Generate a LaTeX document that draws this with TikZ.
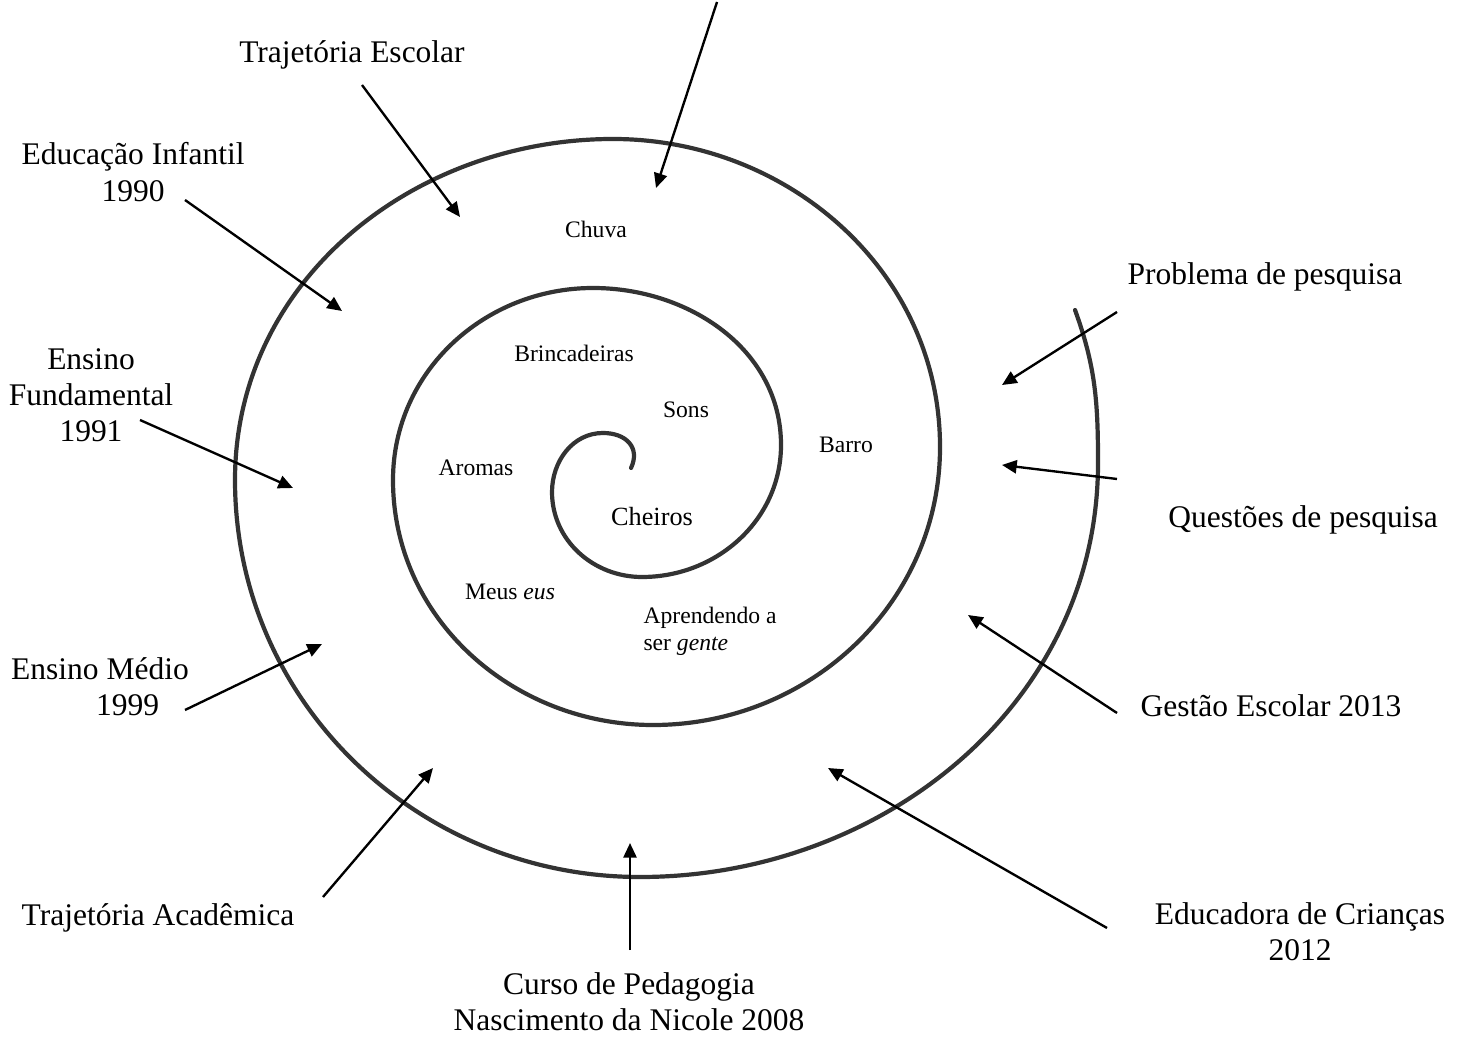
\documentclass[tikz,border=0pt]{standalone}
\usepackage{fontspec}
\setmainfont{Liberation Serif}
\usetikzlibrary{arrows.meta}

\begin{document}
\begin{tikzpicture}[
          x=0.381pt, y=0.381pt,
          outer/.style={font=\fontsize{12}{13.8}\selectfont, align=center, inner sep=0pt},
          inner/.style={font=\fontsize{9}{10.4}\selectfont, inner sep=0pt},
          arr/.style={-{Triangle[length=5.6pt,width=5pt]}, line width=0.9pt},
          spiral/.style={line width=1.6pt, color=black!80, line cap=round}
        ]
          \useasboundingbox (0,0) rectangle (1465,1054);

          \draw[spiral] (631,586) to[out=65,in=0,looseness=1.3] (603,621)
            to[out=180,in=90] (552,562) to[out=-90,in=180] (642,477)
            to[out=0,in=-90] (781,609) to[out=90,in=0] (593,766)
            to[out=180,in=90] (393,574) to[out=-90,in=180] (653,329)
            to[out=0,in=-90] (940,607) to[out=90,in=0] (613,915)
            to[out=180,in=90] (235,574) to[out=-90,in=180] (640,177)
            to[out=0,in=-90] (1098,591) to[out=90,in=-70] (1075,744);

          \node[inner] (chuva) at (596,825) {Chuva};
          \node[inner] (brinc) at (574,701) {Brincadeiras};
          \node[inner] (sons) at (686,644) {Sons};
          \node[inner] (barro) at (846,609) {Barro};
          \node[inner] (aromas) at (476,586) {Aromas};
          \node[inner, font=\fontsize{10}{12}\selectfont] (cheiros) at (652,537) {Cheiros};
          \node[inner] (meuseus) at (510,462) {Meus \textit{eus}};
          \node[inner, anchor=west, align=left] (gente) at (643,423) {Aprendendo a\\ser \textit{gente}};

          \node[outer] (escolar) at (352,999) {Trajetória Escolar};
          \node[outer] (infantil) at (133,882) {Educação Infantil\\1990};
          \node[outer] (fundamental) at (91,659) {Ensino\\Fundamental\\1991};
          \node[outer] (medio) at (100,367) {Ensino Médio\\\hspace*{21pt}1999};
          \node[outer] (academica) at (158,136) {Trajetória Acadêmica};
          \node[outer] (pedagogia) at (629,52) {Curso de Pedagogia\\Nascimento da Nicole 2008};
          \node[outer] (educadora) at (1300,122) {Educadora de Crianças\\2012};
          \node[outer] (gestao) at (1271,348) {Gestão Escolar 2013};
          \node[outer] (questoes) at (1303,534) {Questões de pesquisa};
          \node[outer] (problema) at (1265,777) {Problema de pesquisa};

          \coordinate (topo-t) at (717,1052);
          \coordinate (topo-h) at (656,866);
          \coordinate (escolar-t) at (362,969);
          \coordinate (escolar-h) at (460,837);
          \coordinate (infantil-t) at (185,854);
          \coordinate (infantil-h) at (342,743);
          \coordinate (fundamental-t) at (140,634);
          \coordinate (fundamental-h) at (293,566);
          \coordinate (medio-t) at (185,344);
          \coordinate (medio-h) at (322,410);
          \coordinate (academica-t) at (323,157);
          \coordinate (academica-h) at (433,286);
          \coordinate (pedagogia-t) at (630,104);
          \coordinate (pedagogia-h) at (630,211);
          \coordinate (educadora-t) at (1107,126);
          \coordinate (educadora-h) at (828,286);
          \coordinate (gestao-t) at (1117,341);
          \coordinate (gestao-h) at (968,439);
          \coordinate (questoes-t) at (1117,575);
          \coordinate (questoes-h) at (1002,589);
          \coordinate (problema-t) at (1117,742);
          \coordinate (problema-h) at (1002,669);

          \draw[arr] (topo-t) -- (topo-h);
          \draw[arr] (escolar-t) -- (escolar-h);
          \draw[arr] (infantil-t) -- (infantil-h);
          \draw[arr] (fundamental-t) -- (fundamental-h);
          \draw[arr] (medio-t) -- (medio-h);
          \draw[arr] (academica-t) -- (academica-h);
          \draw[arr] (pedagogia-t) -- (pedagogia-h);
          \draw[arr] (educadora-t) -- (educadora-h);
          \draw[arr] (gestao-t) -- (gestao-h);
          \draw[arr] (questoes-t) -- (questoes-h);
          \draw[arr] (problema-t) -- (problema-h);
        \end{tikzpicture}
\end{document}
